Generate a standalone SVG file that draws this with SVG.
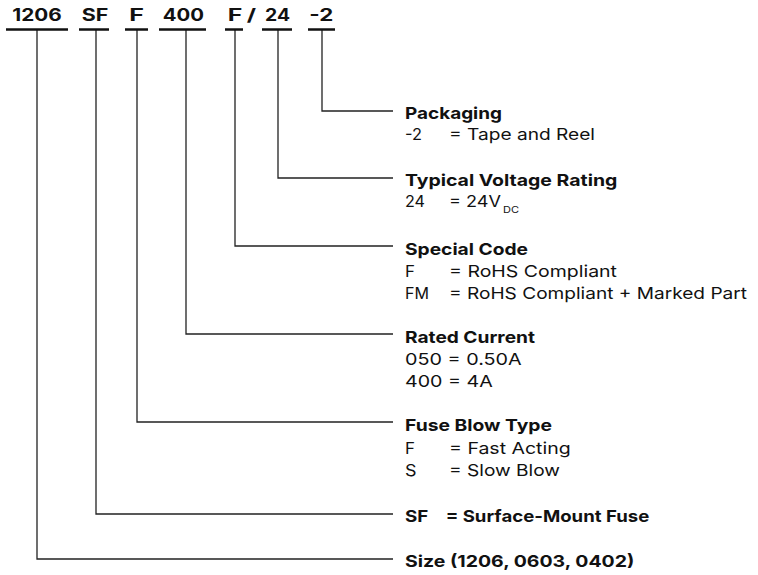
<svg xmlns="http://www.w3.org/2000/svg" width="758" height="575" viewBox="0 0 758 575">
<style>
text{font-family:Inter,"DejaVu Sans","Liberation Sans",sans-serif;fill:#111}
.code{font-size:17px;font-weight:700;text-anchor:middle}
.h{font-size:16.5px;font-weight:700}
.t{font-size:16.5px;font-weight:400}
.sub{font-size:9px;font-weight:400}
.ul{stroke:#111;stroke-width:2.5;fill:none}
.ln{stroke:#222;stroke-width:1.3;fill:none}
</style>
<rect width="758" height="575" fill="#fff"/>
<g id="connectors">
<polyline class="ln" points="322,30 322,111 393,111"/>
<polyline class="ln" points="278,30 278,178 393,178"/>
<polyline class="ln" points="235,30 235,246 393,246"/>
<polyline class="ln" points="186,30 186,334 393,334"/>
<polyline class="ln" points="137,30 137,422 393,422"/>
<polyline class="ln" points="96,30 96,514 393,514"/>
<polyline class="ln" points="37,30 37,559 393,559"/>
</g>
<g id="code-size">
<text class="code" x="37" y="21" textLength="49.4" lengthAdjust="spacingAndGlyphs">1206</text>
<line class="ul" x1="6" y1="29.5" x2="68" y2="29.5"/>
</g>
<g id="code-sf">
<text class="code" x="95" y="21" textLength="26.6" lengthAdjust="spacingAndGlyphs">SF</text>
<line class="ul" x1="79" y1="29.5" x2="109" y2="29.5"/>
</g>
<g id="code-blow">
<text class="code" x="136.7" y="21" textLength="14.7" lengthAdjust="spacingAndGlyphs">F</text>
<line class="ul" x1="125" y1="29.5" x2="148" y2="29.5"/>
</g>
<g id="code-current">
<text class="code" x="183.3" y="21" textLength="41.3" lengthAdjust="spacingAndGlyphs">400</text>
<line class="ul" x1="159" y1="29.5" x2="206" y2="29.5"/>
</g>
<g id="code-special">
<text class="code" x="235" y="21" textLength="14.6" lengthAdjust="spacingAndGlyphs">F</text>
<line class="ul" x1="225" y1="29.5" x2="243" y2="29.5"/>
</g>
<g id="code-slash">
<text class="code" x="251.3" y="21" textLength="9.3" lengthAdjust="spacingAndGlyphs">/</text>
</g>
<g id="code-voltage">
<text class="code" x="277.5" y="21" textLength="25" lengthAdjust="spacingAndGlyphs">24</text>
<line class="ul" x1="262" y1="29.5" x2="292" y2="29.5"/>
</g>
<g id="code-pack">
<text class="code" x="321.3" y="21" textLength="24" lengthAdjust="spacingAndGlyphs">-2</text>
<line class="ul" x1="308" y1="29.5" x2="335" y2="29.5"/>
</g>
<g id="desc-packaging">
<text class="h" x="405" y="119" textLength="97" lengthAdjust="spacingAndGlyphs">Packaging</text>
<text class="t" x="405" y="140" textLength="17" lengthAdjust="spacingAndGlyphs">-2</text>
<text class="t" x="449" y="140" textLength="146" lengthAdjust="spacingAndGlyphs">= Tape and Reel</text>
</g>
<g id="desc-voltage">
<text class="h" x="405" y="186" textLength="212.3" lengthAdjust="spacingAndGlyphs">Typical Voltage Rating</text>
<text class="t" x="405" y="207" textLength="20" lengthAdjust="spacingAndGlyphs">24</text>
<text class="t" x="449" y="207" textLength="52" lengthAdjust="spacingAndGlyphs">= 24V</text>
<text class="sub" x="503" y="213" textLength="16" lengthAdjust="spacingAndGlyphs">DC</text>
</g>
<g id="desc-special">
<text class="h" x="405" y="255" textLength="123" lengthAdjust="spacingAndGlyphs">Special Code</text>
<text class="t" x="405" y="277" textLength="10" lengthAdjust="spacingAndGlyphs">F</text>
<text class="t" x="449" y="277" textLength="168" lengthAdjust="spacingAndGlyphs">= RoHS Compliant</text>
<text class="t" x="405" y="299" textLength="24" lengthAdjust="spacingAndGlyphs">FM</text>
<text class="t" x="449" y="299" textLength="298" lengthAdjust="spacingAndGlyphs">= RoHS Compliant + Marked Part</text>
</g>
<g id="desc-current">
<text class="h" x="405" y="343" textLength="130" lengthAdjust="spacingAndGlyphs">Rated Current</text>
<text class="t" x="405" y="365" textLength="116.7" lengthAdjust="spacingAndGlyphs">050 = 0.50A</text>
<text class="t" x="405" y="387" textLength="87.7" lengthAdjust="spacingAndGlyphs">400 = 4A</text>
</g>
<g id="desc-blow">
<text class="h" x="405" y="431" textLength="147" lengthAdjust="spacingAndGlyphs">Fuse Blow Type</text>
<text class="t" x="405" y="454" textLength="10" lengthAdjust="spacingAndGlyphs">F</text>
<text class="t" x="449" y="454" textLength="121.7" lengthAdjust="spacingAndGlyphs">= Fast Acting</text>
<text class="t" x="405" y="476" textLength="11.5" lengthAdjust="spacingAndGlyphs">S</text>
<text class="t" x="449" y="476" textLength="111" lengthAdjust="spacingAndGlyphs">= Slow Blow</text>
</g>
<g id="desc-sf">
<text class="h" x="405" y="522" textLength="23.3" lengthAdjust="spacingAndGlyphs">SF</text>
<text class="h" x="445.7" y="522" textLength="203.6" lengthAdjust="spacingAndGlyphs">= Surface-Mount Fuse</text>
</g>
<g id="desc-size">
<text class="h" x="405" y="567" textLength="229.3" lengthAdjust="spacingAndGlyphs">Size (1206, 0603, 0402)</text>
</g>
</svg>
